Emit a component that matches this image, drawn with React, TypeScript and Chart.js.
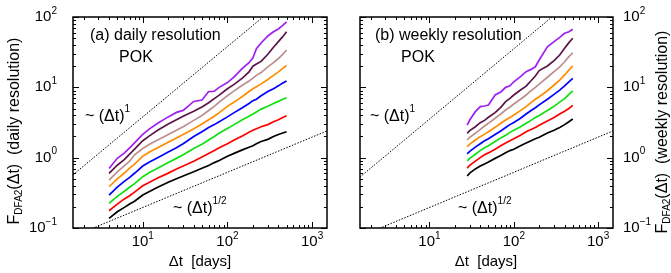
import React, { useEffect, useRef } from "react";
import { Chart, registerables } from "chart.js";

Chart.register(...registerables);

// ---------- data ----------
const dailyDays = [4, 5, 6, 7, 8, 10, 12, 15, 20, 25, 30, 40, 50, 60, 70, 80, 100, 120, 150, 180, 200, 220, 250, 300, 350, 400, 450, 500];
const dailyPurple = [0.7, 0.98, 1.15, 1.38, 1.62, 2.14, 2.57, 3.09, 3.8, 4.4, 4.7, 6.3, 6.6, 8.7, 8.8, 10.0, 11.7, 14.1, 18.6, 22.4, 26.3, 35.5, 42.7, 53.7, 61.7, 67.6, 75.9, 85.1];
const dailyMaroon = [0.6, 0.78, 0.93, 1.12, 1.32, 1.74, 2.04, 2.45, 3.02, 3.47, 3.89, 4.57, 5.25, 6.03, 6.92, 7.76, 9.55, 11.0, 13.5, 16.6, 20.0, 21.4, 23.4, 29.5, 37.2, 44.7, 52.5, 61.7];
const dailyRosy = [0.48, 0.63, 0.76, 0.89, 1.1, 1.35, 1.55, 1.78, 2.14, 2.45, 2.75, 3.39, 3.98, 4.68, 5.37, 6.17, 7.59, 8.91, 10.7, 12.3, 13.5, 14.8, 16.2, 19.5, 22.4, 25.7, 29.5, 33.9];
const dailyOrange = [0.386, 0.5, 0.6, 0.71, 0.81, 1.05, 1.2, 1.38, 1.66, 1.91, 2.14, 2.57, 3.02, 3.47, 3.89, 4.37, 5.37, 6.17, 7.41, 8.71, 9.55, 10.2, 11.2, 12.9, 14.8, 16.6, 18.6, 20.4];
const dailyBlue = [0.294, 0.38, 0.457, 0.525, 0.6, 0.76, 0.87, 1.0, 1.2, 1.38, 1.58, 2.0, 2.34, 2.69, 2.95, 3.24, 3.8, 4.37, 5.13, 5.89, 6.46, 6.76, 7.59, 8.71, 9.55, 10.5, 11.5, 12.3];
const dailyGreen = [0.224, 0.282, 0.331, 0.38, 0.427, 0.537, 0.617, 0.708, 0.851, 0.977, 1.1, 1.35, 1.55, 1.78, 2.0, 2.24, 2.6, 2.95, 3.47, 3.89, 4.17, 4.47, 4.9, 5.37, 5.89, 6.31, 6.76, 7.13];
const dailyRed = [0.176, 0.219, 0.257, 0.288, 0.324, 0.398, 0.447, 0.513, 0.603, 0.692, 0.759, 0.891, 1.02, 1.15, 1.26, 1.38, 1.58, 1.78, 2.04, 2.29, 2.45, 2.57, 2.75, 2.95, 3.24, 3.47, 3.72, 3.95];
const dailyBlack = [0.137, 0.17, 0.195, 0.219, 0.24, 0.295, 0.331, 0.38, 0.447, 0.501, 0.55, 0.631, 0.708, 0.776, 0.851, 0.912, 1.05, 1.15, 1.29, 1.41, 1.48, 1.58, 1.7, 1.82, 2.0, 2.14, 2.24, 2.34];

const weeklyDays = [28, 30, 35, 40, 45, 50, 60, 70, 80, 90, 100, 120, 140, 160, 180, 200, 250, 300, 350, 400, 450, 500];
const weeklyPurple = [2.91, 3.43, 4.51, 5.31, 5.43, 5.61, 7.8, 8.6, 10.0, 10.5, 12.0, 14.2, 16.7, 18.0, 19.6, 24.5, 37.8, 44.6, 51.4, 58.6, 61.8, 66.8];
const weeklyMaroon = [2.22, 2.42, 2.75, 3.14, 3.39, 3.75, 4.37, 5.2, 6.25, 6.98, 7.78, 9.16, 10.4, 12.4, 14.5, 17.3, 20.1, 23.9, 28.8, 35.9, 43.2, 49.8];
const weeklyRosy = [1.78, 1.95, 2.22, 2.53, 2.82, 3.08, 3.63, 4.18, 4.76, 5.25, 5.79, 6.76, 7.78, 8.95, 10.0, 11.1, 13.9, 16.7, 19.6, 23.1, 27.3, 31.0];
const weeklyOrange = [1.43, 1.56, 1.78, 1.99, 2.16, 2.34, 2.7, 3.08, 3.43, 3.72, 4.05, 4.66, 5.31, 6.05, 6.76, 7.36, 8.95, 10.8, 12.7, 15.0, 17.6, 20.3];
const weeklyBlue = [1.13, 1.23, 1.41, 1.58, 1.74, 1.86, 2.14, 2.4, 2.69, 2.95, 3.16, 3.63, 4.17, 4.68, 5.13, 5.62, 6.76, 7.94, 9.12, 10.5, 12.0, 13.4];
const weeklyGreen = [0.9, 0.977, 1.12, 1.26, 1.38, 1.48, 1.7, 1.91, 2.09, 2.29, 2.45, 2.75, 3.09, 3.39, 3.72, 3.98, 4.68, 5.37, 6.17, 6.92, 7.94, 8.87];
const weeklyRed = [0.71, 0.776, 0.891, 1.0, 1.1, 1.17, 1.32, 1.48, 1.62, 1.74, 1.86, 2.09, 2.34, 2.51, 2.69, 2.88, 3.31, 3.72, 4.17, 4.57, 5.01, 5.55];
const weeklyBlack = [0.548, 0.603, 0.692, 0.759, 0.813, 0.871, 0.977, 1.07, 1.17, 1.26, 1.32, 1.48, 1.62, 1.74, 1.86, 1.95, 2.24, 2.45, 2.69, 2.95, 3.24, 3.55];

const seriesColors = ["#a020f0", "#5b1446", "#bc8f8f", "#ff8c00", "#0000ff", "#10e010", "#ff0000", "#000000"];

// guide lines (power laws)
const guideX = [1.5, 1500];
const dailySlopeOne = [0.57, 570];
const dailySlopeHalf = [0.0758, 2.4];
const weeklySlopeOne = [0.53, 530];
const weeklySlopeHalf = [0.0758, 2.4];

// axes
const xRange = [1.5, 1500];
const yRange = [0.1, 100];
const xTickExponents = [1, 2, 3];
const yTickExponents = [-1, 0, 1, 2];

// ---------- drawing helpers ----------
const FONT = '"Liberation Sans", Arial, Helvetica, sans-serif';
type Part = { t: string; size: number; dy?: number };

function richWidth(ctx: CanvasRenderingContext2D, parts: Part[]) {
  let w = 0;
  for (const p of parts) {
    ctx.font = `${p.size}px ${FONT}`;
    w += ctx.measureText(p.t).width;
  }
  return w;
}

function drawRich(ctx: CanvasRenderingContext2D, parts: Part[], x: number, y: number, align: "left" | "center" | "right") {
  const w = richWidth(ctx, parts);
  let cx = align === "left" ? x : align === "center" ? x - w / 2 : x - w;
  ctx.textBaseline = "middle";
  ctx.textAlign = "left";
  ctx.fillStyle = "#000";
  for (const p of parts) {
    ctx.font = `${p.size}px ${FONT}`;
    ctx.fillText(p.t, cx, y + (p.dy || 0));
    cx += ctx.measureText(p.t).width;
  }
}

function expText(e: number) {
  return e < 0 ? "\u2212" + String(-e) : String(e);
}

function logTicks(range: number[]) {
  const out: { v: number; major: boolean }[] = [];
  const lo = Math.floor(Math.log10(range[0]));
  const hi = Math.ceil(Math.log10(range[1]));
  for (let e = lo; e <= hi; e++) {
    for (let m = 1; m <= 9; m++) {
      const v = m * Math.pow(10, e);
      if (v >= range[0] * 0.999 && v <= range[1] * 1.001) out.push({ v, major: m === 1 });
    }
  }
  return out;
}

type Note = { parts: Part[]; x: number; y: number; align: "left" | "center" | "right" };
type PanelCfg = {
  ySide: "left" | "right";
  yLabelX: number;
  yTitleX: number;
  yTitleY: number;
  yTitleText: string;
  xTitleX: number;
  notes: Note[];
};

function framePlugin(cfg: PanelCfg) {
  return {
    id: "frameAndLabels",
    afterDraw(chart: any) {
      const { ctx, chartArea: a, scales } = chart;
      const xs = scales.x;
      const ys = scales.y;
      ctx.save();
      ctx.strokeStyle = "#000";
      ctx.lineWidth = 1;
      ctx.beginPath();
      for (const t of logTicks(xRange)) {
        const px = Math.round(xs.getPixelForValue(t.v)) + 0.5;
        const len = t.major ? 6 : 3;
        ctx.moveTo(px, a.bottom);
        ctx.lineTo(px, a.bottom - len);
        ctx.moveTo(px, a.top);
        ctx.lineTo(px, a.top + len);
      }
      for (const t of logTicks(yRange)) {
        const py = Math.round(ys.getPixelForValue(t.v)) + 0.5;
        const len = t.major ? 6 : 3;
        ctx.moveTo(a.left, py);
        ctx.lineTo(a.left + len, py);
        ctx.moveTo(a.right, py);
        ctx.lineTo(a.right - len, py);
      }
      ctx.stroke();
      ctx.lineWidth = 1.5;
      ctx.strokeRect(a.left, a.top, a.right - a.left, a.bottom - a.top);

      // x tick labels
      for (const e of xTickExponents) {
        const px = xs.getPixelForValue(Math.pow(10, e));
        drawRich(ctx, [{ t: "10", size: 15 }, { t: expText(e), size: 10, dy: -6 }], px, 242, "center");
      }
      // y tick labels
      for (const e of yTickExponents) {
        const py = ys.getPixelForValue(Math.pow(10, e));
        drawRich(
          ctx,
          [{ t: "10", size: 15 }, { t: expText(e), size: 10, dy: -6 }],
          cfg.yLabelX,
          py,
          cfg.ySide === "left" ? "right" : "left"
        );
      }
      // x title
      drawRich(ctx, [{ t: "\u0394t  [days]", size: 15 }], cfg.xTitleX, 262, "center");
      // y title
      ctx.save();
      ctx.translate(cfg.yTitleX, cfg.yTitleY);
      ctx.rotate(-Math.PI / 2);
      drawRich(
        ctx,
        [
          { t: "F", size: 16 },
          { t: "DFA2", size: 10, dy: 4 },
          { t: "(\u0394t)  (" + cfg.yTitleText + ")", size: 16 },
        ],
        0,
        0,
        "center"
      );
      ctx.restore();
      // notes
      for (const n of cfg.notes) drawRich(ctx, n.parts, n.x, n.y, n.align);
      ctx.restore();
    },
  };
}

function lineSet(xv: number[], yv: number[], color: string, width: number, dash: number[] = []) {
  return {
    data: xv.map((x, i) => ({ x, y: yv[i] })),
    borderColor: color,
    backgroundColor: color,
    borderWidth: width,
    borderDash: dash,
    pointRadius: 0,
    fill: false,
    tension: 0,
  };
}

function Panel(props: {
  width: number;
  left: number;
  padding: { left: number; right: number; top: number; bottom: number };
  days: number[];
  series: number[][];
  slopeOne: number[];
  slopeHalf: number[];
  cfg: PanelCfg;
}) {
  const ref = useRef<HTMLCanvasElement | null>(null);
  useEffect(() => {
    if (!ref.current) return;
    const datasets: any[] = [
      lineSet(guideX, props.slopeOne, "#000", 1, [1.5, 1.5]),
      lineSet(guideX, props.slopeHalf, "#000", 1, [1.5, 1.5]),
    ];
    props.series.forEach((s, i) => datasets.push(lineSet(props.days, s, seriesColors[i], 1.7)));
    const chart = new Chart(ref.current, {
      type: "line",
      data: { datasets },
      options: {
        animation: false,
        responsive: false,
        maintainAspectRatio: false,
        layout: { padding: props.padding },
        scales: {
          x: { type: "logarithmic", min: xRange[0], max: xRange[1], display: false },
          y: { type: "logarithmic", min: yRange[0], max: yRange[1], display: false },
        },
        plugins: { legend: { display: false }, tooltip: { enabled: false } },
        elements: { point: { radius: 0 } },
      } as any,
      plugins: [framePlugin(props.cfg)],
    });
    return () => chart.destroy();
  }, []);
  return (
    <canvas
      ref={ref}
      width={props.width}
      height={273}
      style={{ position: "absolute", left: props.left, top: 0, width: props.width, height: 273, display: "block" }}
    />
  );
}

const dailyCfg: PanelCfg = {
  ySide: "left",
  yLabelX: 57,
  yTitleX: 15,
  yTitleY: 131,
  yTitleText: "daily resolution",
  xTitleX: 200,
  notes: [
    { parts: [{ t: "(a) daily resolution", size: 16 }], x: 90, y: 36, align: "left" },
    { parts: [{ t: "POK", size: 16 }], x: 136, y: 58, align: "center" },
    { parts: [{ t: "~ (\u0394t)", size: 16 }, { t: "1", size: 10, dy: -8 }], x: 85, y: 117, align: "left" },
    { parts: [{ t: "~ (\u0394t)", size: 16 }, { t: "1/2", size: 10, dy: -8 }], x: 173, y: 209, align: "left" },
  ],
};

const weeklyCfg: PanelCfg = {
  ySide: "right",
  yLabelX: 288,
  yTitleX: 328,
  yTitleY: 132,
  yTitleText: "weekly resolution",
  xTitleX: 151,
  notes: [
    { parts: [{ t: "(b) weekly resolution", size: 16 }], x: 40, y: 36, align: "left" },
    { parts: [{ t: "POK", size: 16 }], x: 83, y: 58, align: "center" },
    { parts: [{ t: "~ (\u0394t)", size: 16 }, { t: "1", size: 10, dy: -8 }], x: 35, y: 117, align: "left" },
    { parts: [{ t: "~ (\u0394t)", size: 16 }, { t: "1/2", size: 10, dy: -8 }], x: 123, y: 209, align: "left" },
  ],
};

export default function App() {
  return (
    <div style={{ position: "absolute", left: 0, top: 0, width: 671, height: 273, background: "#fff", overflow: "hidden" }}>
      <Panel
        width={335}
        left={0}
        padding={{ left: 73, right: 8, top: 17, bottom: 45 }}
        days={dailyDays}
        series={[dailyPurple, dailyMaroon, dailyRosy, dailyOrange, dailyBlue, dailyGreen, dailyRed, dailyBlack]}
        slopeOne={dailySlopeOne}
        slopeHalf={dailySlopeHalf}
        cfg={dailyCfg}
      />
      <Panel
        width={336}
        left={335}
        padding={{ left: 25, right: 58, top: 17, bottom: 45 }}
        days={weeklyDays}
        series={[weeklyPurple, weeklyMaroon, weeklyRosy, weeklyOrange, weeklyBlue, weeklyGreen, weeklyRed, weeklyBlack]}
        slopeOne={weeklySlopeOne}
        slopeHalf={weeklySlopeHalf}
        cfg={weeklyCfg}
      />
    </div>
  );
}
